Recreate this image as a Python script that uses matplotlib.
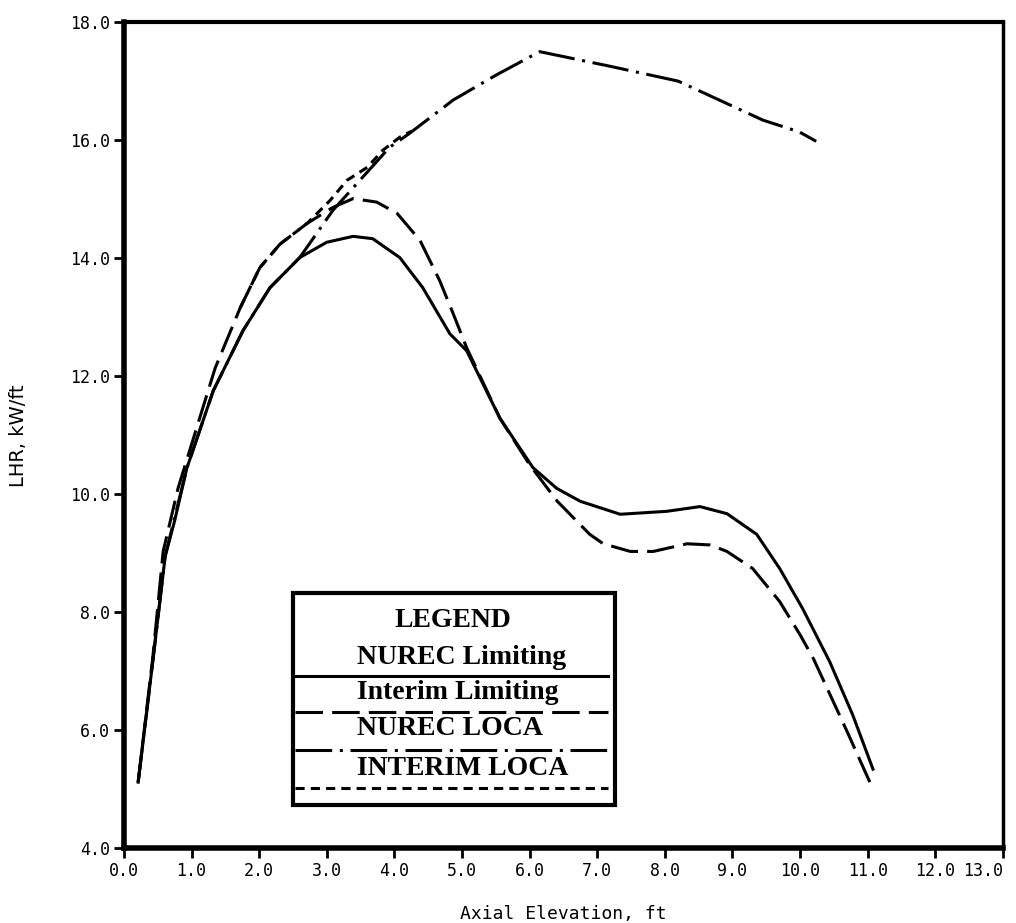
import matplotlib
matplotlib.use("Agg")
import matplotlib.pyplot as plt
from matplotlib.patches import Rectangle

# values (axial elevation ft, LHR kW/ft)
nurec_lim_x = [0.21, 0.43, 0.61, 0.75, 0.93, 1.32, 1.76, 2.16, 2.60, 3.00, 3.39, 3.68, 4.08, 4.42,
               4.82, 5.07, 5.56, 6.05, 6.40, 6.75, 7.34, 8.03, 8.52, 8.92, 9.36, 9.70, 10.04, 10.44,
               10.78, 11.08]
nurec_lim_y = [5.12, 7.20, 8.95, 9.55, 10.44, 11.75, 12.77, 13.50, 14.01, 14.27, 14.37, 14.33, 14.01,
               13.50, 12.72, 12.43, 11.29, 10.45, 10.10, 9.88, 9.66, 9.71, 9.79, 9.67, 9.32, 8.74,
               8.06, 7.16, 6.26, 5.34]

interim_lim_x = [0.21, 0.43, 0.58, 0.80, 1.12, 1.35, 1.72, 2.01, 2.31, 2.71, 3.09, 3.39, 3.74, 4.04,
                 4.38, 4.67, 4.87, 5.07, 5.56, 6.00, 6.41, 6.89, 7.09, 7.49, 7.83, 8.33, 8.67, 8.92,
                 9.30, 9.70, 10.00, 10.20, 10.70, 11.08]
interim_lim_y = [5.12, 7.27, 9.03, 10.10, 11.29, 12.14, 13.16, 13.84, 14.24, 14.59, 14.86, 15.01,
                 14.95, 14.76, 14.30, 13.62, 13.06, 12.48, 11.29, 10.50, 9.88, 9.32, 9.16, 9.03, 9.03,
                 9.16, 9.14, 9.03, 8.74, 8.18, 7.62, 7.21, 5.97, 5.00]

nurec_loca_x = [0.21, 0.43, 0.61, 0.93, 1.32, 1.76, 2.16, 2.60, 3.09, 3.49, 3.93, 4.23, 4.87, 5.50,
                6.15, 7.20, 8.20, 9.45, 9.99, 10.24]
nurec_loca_y = [5.12, 7.20, 8.95, 10.44, 11.75, 12.77, 13.50, 14.01, 14.81, 15.32, 15.88, 16.12,
                16.68, 17.10, 17.50, 17.25, 17.00, 16.34, 16.14, 15.98]

interim_loca_x = [1.72, 2.01, 2.31, 2.71, 3.05, 3.30, 3.60, 3.83, 4.08, 4.25]
interim_loca_y = [13.16, 13.84, 14.24, 14.59, 14.98, 15.32, 15.54, 15.83, 16.05, 16.15]

x_ticks = [0, 1, 2, 3, 4, 5, 6, 7, 8, 9, 10, 11, 12, 13]
y_ticks = [4, 6, 8, 10, 12, 14, 16, 18]

legend_labels = ["NUREC Limiting", "Interim Limiting", "NUREC LOCA", "INTERIM LOCA"]

fig = plt.figure(figsize=(10.16, 9.23), dpi=100)
ax = fig.add_axes([0.122, 0.081, 0.865, 0.895])

lw = 2.2
ax.plot(nurec_lim_x, nurec_lim_y, color="black", lw=lw, ls="-")
ax.plot(interim_lim_x, interim_lim_y, color="black", lw=lw, ls=(0, (9, 3)))
ax.plot(nurec_loca_x, nurec_loca_y, color="black", lw=lw, ls=(0, (12, 2.5, 1, 2.5)))
ax.plot(interim_loca_x, interim_loca_y, color="black", lw=lw, ls=(0, (3, 2)))

ax.set_xlim(0, 13)
ax.set_ylim(4, 18)
ax.set_xticks(x_ticks)
ax.set_xticklabels(["%.1f" % v for v in x_ticks], family="DejaVu Sans Mono", fontsize=12)
ax.get_xticklabels()[-1].set_ha("right")
ax.set_yticks(y_ticks)
ax.set_yticklabels(["%.1f" % v for v in y_ticks], family="DejaVu Sans Mono", fontsize=12)
ax.tick_params(axis="both", direction="out", length=7, width=2, pad=3)

ax.spines["left"].set_linewidth(4)
ax.spines["bottom"].set_linewidth(4)
ax.spines["top"].set_linewidth(3)
ax.spines["right"].set_linewidth(2.5)

ax.set_xlabel("Axial Elevation, ft", family="DejaVu Sans Mono", fontsize=13, labelpad=18)
ax.set_ylabel("LHR, kW/ft", family=["Liberation Sans Narrow", "DejaVu Sans"], fontsize=14, labelpad=30)

# legend box drawn the way the original figure has it
tr = ax.transAxes
ax.add_patch(Rectangle((0.192, 0.052), 0.367, 0.257, transform=tr, fill=False,
                       edgecolor="black", lw=3, zorder=5))
lfont = dict(family=["Liberation Serif", "DejaVu Serif"], fontsize=20, fontweight="bold",
             transform=tr, zorder=6, va="center")
ax.text(0.374, 0.276, "LEGEND", ha="center", **lfont)
text_y = [0.231, 0.188, 0.145, 0.097]
line_y = [0.209, 0.165, 0.119, 0.073]
styles = ["-", (0, (9, 3)), (0, (12, 2.5, 1, 2.5)), (0, (3, 2))]
for lab, ty, ly, st in zip(legend_labels, text_y, line_y, styles):
    ax.text(0.265, ty, lab, ha="left", **lfont)
    ax.plot([0.195, 0.551], [ly, ly], transform=tr, color="black", lw=2.2, ls=st, zorder=6)

fig.savefig("out.png", dpi=100)
